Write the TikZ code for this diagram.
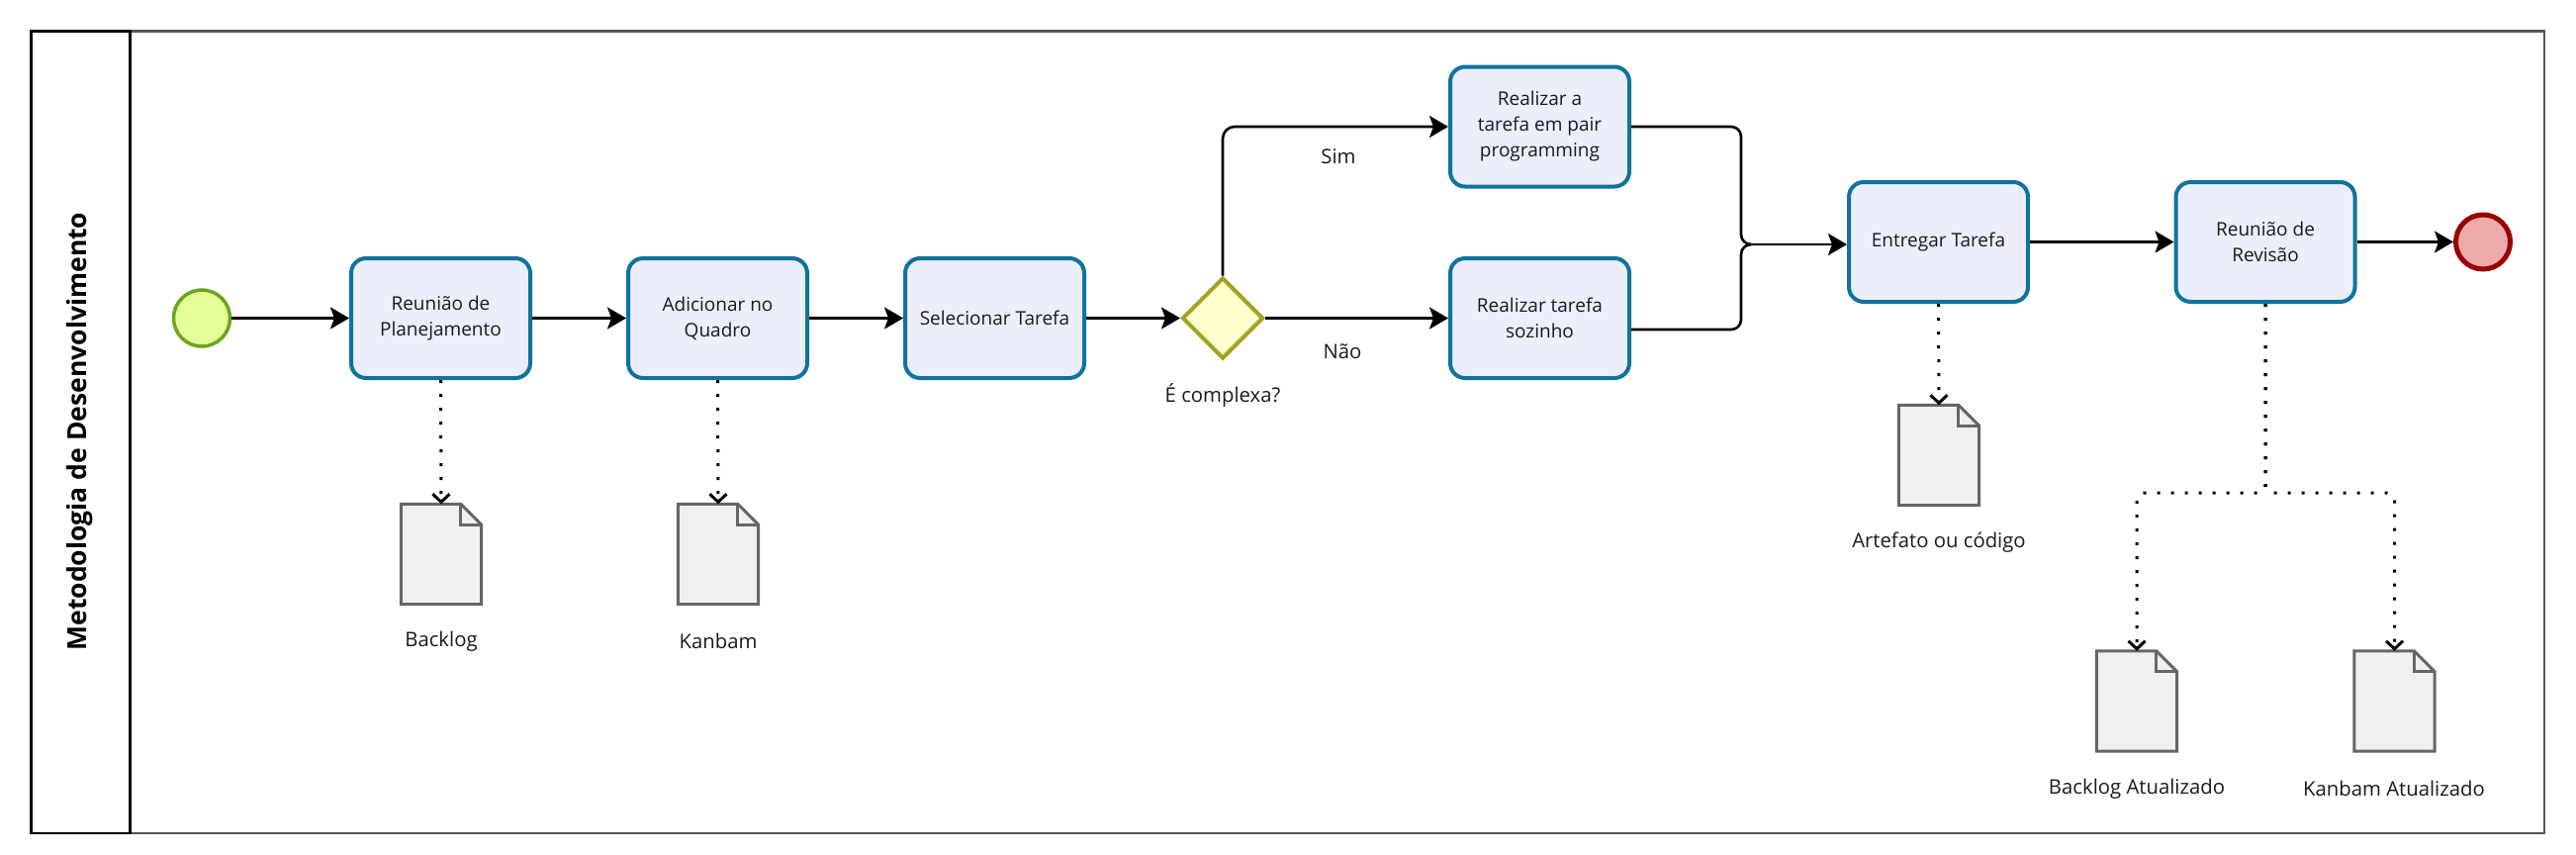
\documentclass[tikz,border=0pt]{standalone}
\usepackage{fontspec}
\setmainfont{Open Sans}
\usetikzlibrary{arrows.meta,shapes.geometric}
\definecolor{taskfill}{HTML}{EAEEFD}
\definecolor{taskline}{HTML}{10739E}
\definecolor{startfill}{HTML}{E4FE98}
\definecolor{startline}{HTML}{6AA51E}
\definecolor{endfill}{HTML}{EEAAAA}
\definecolor{endline}{HTML}{990000}
\definecolor{gwfill}{HTML}{FFFFCC}
\definecolor{gwline}{HTML}{A2A222}
\definecolor{docfill}{HTML}{F0F0F0}
\definecolor{docline}{HTML}{666666}
\definecolor{laneline}{HTML}{555555}
\definecolor{txt}{HTML}{1A1A1A}
\tikzset{
  every node/.style={font=\fontsize{19}{26}\selectfont, text=txt},
  task/.style={rectangle, rounded corners=15pt, draw=taskline, fill=taskfill, line width=4pt,
    minimum width=181pt, minimum height=121pt, align=center, inner sep=2pt},
  startev/.style={circle, draw=startline, fill=startfill, line width=3.5pt, minimum size=57pt, inner sep=0pt},
  endev/.style={circle, draw=endline, fill=endfill, line width=5pt, minimum size=55pt, inner sep=0pt},
  gateway/.style={diamond, draw=gwline, fill=gwfill, line width=4pt, minimum width=82pt, minimum height=82pt, aspect=1, inner sep=0pt},
  docbox/.style={rectangle, minimum width=81pt, minimum height=101pt, inner sep=0pt},
  docshape/.style={draw=docline, fill=docfill, line width=3pt, line join=miter},
  seqflow/.style={line width=2.6pt, draw=black, -{Stealth[length=19pt,width=22pt,inset=4pt]}},
  seqline/.style={line width=2.6pt, draw=black},
  assoc/.style={line width=3pt, draw=black, dash pattern=on 3pt off 11pt,
    -{Straight Barb[length=8pt,width=17pt,line width=3pt]}},
  lbl/.style={inner sep=0pt, font=\fontsize{20.3}{26}\selectfont}
}
\newcommand{\drawdoc}[1]{%
  \draw[docshape] (#1.north west) -- ([xshift=-21pt]#1.north east) -- ([yshift=-21pt]#1.north east)
    -- (#1.south east) -- (#1.south west) -- cycle;
  \draw[docshape, fill=none] ([xshift=-21pt]#1.north east) -- ([xshift=-21pt,yshift=-21pt]#1.north east)
    -- ([yshift=-21pt]#1.north east);
}
\begin{document}
\begin{tikzpicture}[x=1pt, y=-1pt]
\useasboundingbox (0,0) rectangle (2604,863);
% pool / lane
\draw[laneline, line width=2.5pt] (131.5,31.5) rectangle (2572,842);
\draw[black, line width=2.5pt] (31.5,31.5) rectangle (131.5,842);
\node[rotate=90, font=\fontsize{26.5}{30}\selectfont\bfseries, text=black] (title) at (81,436) {Metodologia de Desenvolvimento};

% events and tasks
\node[startev] (start) at (204,321.5) {};
\node[task] (t1) at (445.5,321.5) {Reunião de\\Planejamento};
\node[task] (t2) at (725.5,321.5) {Adicionar no\\Quadro};
\node[task] (t3) at (1005.5,321.5) {Selecionar Tarefa};
\node[gateway] (gw) at (1236,321.5) {};
\node[task] (t4) at (1556.5,128) {Realizar a\\tarefa em pair\\programming};
\node[task] (t5) at (1556.5,321.5) {Realizar tarefa\\sozinho};
\node[task] (t6) at (1959.5,244.5) {Entregar Tarefa};
\node[task] (t7) at (2290,244.5) {Reunião de\\Revisão};
\node[endev] (end) at (2510,244.5) {};

% labels
\node[lbl] (lgw) at (1236,399) {É complexa?};
\node[lbl] (lsim) at (1353,158) {Sim};
\node[lbl] (lnao) at (1357,355) {Não};

% documents
\node[docbox] (d1) at (446,560) {};
\node[docbox] (d2) at (726,560) {};
\node[docbox] (d3) at (1960,460) {};
\node[docbox] (d4) at (2160,708.5) {};
\node[docbox] (d5) at (2420.5,708.5) {};
\drawdoc{d1}
\drawdoc{d2}
\drawdoc{d3}
\drawdoc{d4}
\drawdoc{d5}
\node[lbl] (ld1) at (446,648) {Backlog};
\node[lbl] (ld2) at (726,648) {Kanbam};
\node[lbl] (ld3) at (1960,548) {Artefato ou código};
\node[lbl] (ld4) at (2160,797) {Backlog Atualizado};
\node[lbl] (ld5) at (2420,797) {Kanbam Atualizado};

% sequence flows
\draw[seqflow] (start) -- (t1);
\draw[seqflow] (t1) -- (t2);
\draw[seqflow] (t2) -- (t3);
\draw[seqflow] (t3) -- (gw.west);
\draw[seqflow, rounded corners=12pt] (gw.north) |- (t4.west);
\draw[seqflow] (gw.east) -- (t5.west);
\coordinate (join) at (1768,247);
\draw[seqline, rounded corners=10pt] (t4.east) -- (1760,128) -- (1760,247) -- (join);
\draw[seqline, rounded corners=10pt] ([yshift=-11.5pt]t5.east) -- (1760,333) -- (1760,247) -- (join);
\draw[seqflow] (join) -- (join -| t6.west);
\draw[seqflow] (t6) -- (t7);
\draw[seqflow] (t7) -- (end);

% associations
\draw[assoc] (t1.south) -- (d1.north);
\draw[assoc] (t2.south) -- (d2.north);
\draw[assoc] (t6.south) -- (d3.north);
\coordinate (split) at (2290,498);
\draw[assoc, rounded corners=8pt] (t7.south) -- (split) -| (d4.north);
\draw[assoc, rounded corners=8pt] (t7.south) -- (split) -| (d5.north);
\end{tikzpicture}
\end{document}
